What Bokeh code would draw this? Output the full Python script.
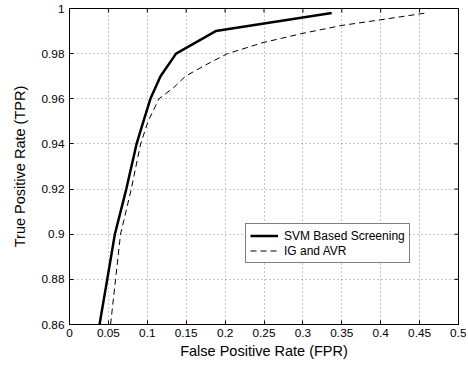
import math
from bokeh.plotting import figure
from bokeh.models import FixedTicker, Range1d, Legend, LegendItem
from bokeh.embed import file_html
from bokeh.resources import INLINE

# Data
svm_fpr = [0.0386, 0.0485, 0.0583, 0.073, 0.0862, 0.095, 0.104, 0.117, 0.137, 0.188, 0.337]
svm_tpr = [0.86, 0.88, 0.90, 0.92, 0.94, 0.95, 0.96, 0.97, 0.98, 0.99, 0.998]
ig_fpr = [0.0528, 0.0592, 0.0656, 0.0794, 0.0914, 0.101, 0.115, 0.134, 0.149, 0.175, 0.203,
          0.25, 0.30, 0.35, 0.40, 0.458]
ig_tpr = [0.86, 0.88, 0.90, 0.92, 0.94, 0.95, 0.96, 0.965, 0.97, 0.975, 0.98,
          0.985, 0.989, 0.9925, 0.995, 0.998]

x_ticks = [0, 0.05, 0.1, 0.15, 0.2, 0.25, 0.3, 0.35, 0.4, 0.45, 0.5]
x_tick_labels = ["0", "0.05", "0.1", "0.15", "0.2", "0.25", "0.3", "0.35", "0.4", "0.45", "0.5"]
y_ticks = [0.86, 0.88, 0.90, 0.92, 0.94, 0.96, 0.98, 1.0]
y_tick_labels = ["0.86", "0.88", "0.9", "0.92", "0.94", "0.96", "0.98", "1"]

FONT = "Liberation Sans"

p = figure(width=466, height=370, output_backend="svg", toolbar_location=None,
           x_range=Range1d(x_ticks[0], x_ticks[-1]), y_range=Range1d(y_ticks[0], y_ticks[-1]),
           min_border_left=69, min_border_right=8, min_border_top=8, min_border_bottom=46,
           x_axis_label="False Positive Rate (FPR)", y_axis_label="True Positive Rate (TPR)")
p.background_fill_color = "white"
p.border_fill_color = "white"
p.outline_line_color = "black"
p.outline_line_width = 1

for ax, ticks, labels in ((p.xaxis[0], x_ticks, x_tick_labels), (p.yaxis[0], y_ticks, y_tick_labels)):
    ax.ticker = FixedTicker(ticks=ticks)
    ax.major_label_overrides = {t: l for t, l in zip(ticks, labels)}
    ax.major_tick_in = 4
    ax.major_tick_out = 0
    ax.minor_tick_in = 0
    ax.minor_tick_out = 0
    ax.axis_line_color = "black"
    ax.major_tick_line_color = "black"
    ax.major_label_text_font = FONT
    ax.major_label_text_font_size = "11.8px"
    ax.major_label_text_color = "black"
    ax.axis_label_text_font = FONT
    ax.axis_label_text_font_size = "14.5px"
    ax.axis_label_text_font_style = "normal"
    ax.axis_label_text_color = "black"

p.xaxis[0].major_label_standoff = 4
p.xaxis[0].axis_label_standoff = 3
p.yaxis[0].major_label_standoff = 5
p.yaxis[0].axis_label_standoff = 11

p.xgrid[0].ticker = FixedTicker(ticks=x_ticks)
p.ygrid[0].ticker = FixedTicker(ticks=y_ticks)
for g in (p.xgrid[0], p.ygrid[0]):
    g.grid_line_color = "#333333"
    g.grid_line_alpha = 0.55
    g.grid_line_dash = "1 3"
    g.grid_line_width = 1

# inward ticks on the top and right edges (clipped to the frame)
p.scatter(x_ticks, [y_ticks[-1]] * len(x_ticks), marker="dash", angle=math.pi / 2,
          size=8, line_color="black", line_width=1)
p.scatter([x_ticks[-1]] * len(y_ticks), y_ticks, marker="dash",
          size=8, line_color="black", line_width=1)

r1 = p.line(svm_fpr, svm_tpr, line_color="black", line_width=2.5)
r2 = p.line(ig_fpr, ig_tpr, line_color="black", line_width=1, line_dash="6 4")

legend = Legend(items=[LegendItem(label="SVM Based Screening", renderers=[r1]),
                       LegendItem(label="IG and AVR", renderers=[r2])],
                location=(176, 61))
legend.border_line_color = "black"
legend.border_line_width = 1
legend.background_fill_color = "white"
legend.background_fill_alpha = 1
legend.label_text_font = FONT
legend.label_text_font_size = "12px"
legend.label_text_color = "black"
legend.glyph_width = 28
legend.glyph_height = 15
legend.label_height = 15
legend.label_standoff = 6
legend.spacing = 0
legend.padding = 4
legend.margin = 0
p.add_layout(legend, "center")

open("out.html", "w").write(file_html(p, INLINE))
